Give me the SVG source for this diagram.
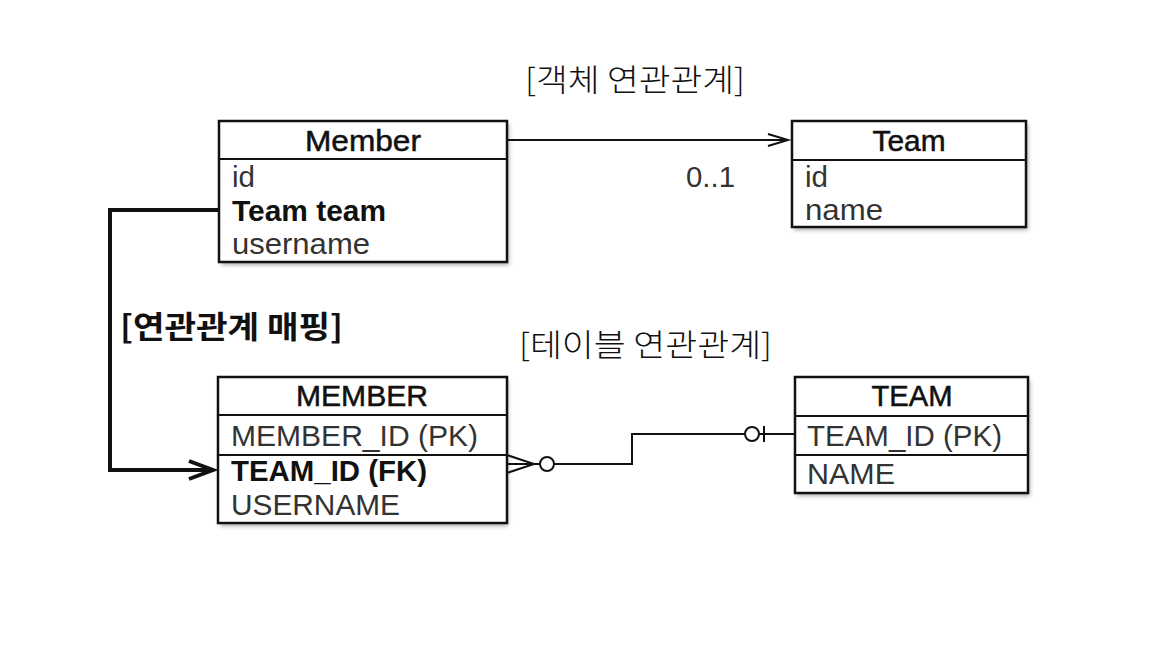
<svg xmlns="http://www.w3.org/2000/svg" width="1172" height="650" viewBox="0 0 1172 650">
<defs>
<style>
text{font-family:"Liberation Sans","Noto Sans CJK KR",sans-serif;fill:#111;}
.k{font-family:"Noto Sans CJK KR",sans-serif;font-size:31px;font-weight:300;}
.t{font-size:29px;text-anchor:middle;stroke:#111;stroke-width:0.5;}
.f{font-size:29px;fill:#333;}
.b{font-weight:700;fill:#111;}
.box{fill:#fff;stroke:#111;stroke-width:2.5;}
.sh{fill:#aaa;}
.ln{fill:none;stroke:#111;stroke-width:2;}
</style>
<filter id="blur" x="-5%" y="-5%" width="110%" height="120%"><feGaussianBlur stdDeviation="2"/></filter>
<marker id="open" markerWidth="30" markerHeight="20" refX="22" refY="8" orient="auto" markerUnits="userSpaceOnUse"><path d="M2,2 L22,8 L2,14" fill="none" stroke="#111" stroke-width="2"/></marker>
<marker id="thick" markerWidth="34" markerHeight="24" refX="26" refY="12" orient="auto" markerUnits="userSpaceOnUse"><path d="M2,3 L26,12 L2,21" fill="none" stroke="#111" stroke-width="4"/></marker>
</defs>
<rect width="1172" height="650" fill="#fff"/>

<text class="k" x="525" y="91" textLength="220" lengthAdjust="spacingAndGlyphs">[객체 연관관계]</text>
<text class="k" x="519" y="356" textLength="253" lengthAdjust="spacingAndGlyphs">[테이블 연관관계]</text>
<text class="k" x="120" y="338" textLength="223" lengthAdjust="spacingAndGlyphs" style="font-weight:700">[연관관계 매핑]</text>

<g id="Member">
<rect class="sh" x="221" y="124" width="288" height="141" filter="url(#blur)"/>
<rect class="box" x="219" y="121" width="288" height="141"/>
<line class="ln" x1="219" y1="159" x2="507" y2="159" stroke-width="2.5"/>
<text class="t" x="363" y="151" textLength="116" lengthAdjust="spacingAndGlyphs">Member</text>
<text class="f" x="232" y="187" textLength="23" lengthAdjust="spacingAndGlyphs">id</text>
<text class="f b" x="232" y="221" textLength="154" lengthAdjust="spacingAndGlyphs">Team team</text>
<text class="f" x="232" y="254" textLength="138" lengthAdjust="spacingAndGlyphs">username</text>
</g>

<g id="Team">
<rect class="sh" x="794" y="124" width="234" height="106" filter="url(#blur)"/>
<rect class="box" x="792" y="121" width="234" height="106"/>
<line class="ln" x1="792" y1="160" x2="1026" y2="160" stroke-width="2.5"/>
<text class="t" x="909" y="151" textLength="73" lengthAdjust="spacingAndGlyphs">Team</text>
<text class="f" x="805" y="187" textLength="23" lengthAdjust="spacingAndGlyphs">id</text>
<text class="f" x="805" y="220" textLength="78" lengthAdjust="spacingAndGlyphs">name</text>
</g>

<g id="MEMBER">
<rect class="sh" x="220" y="380" width="288" height="146" filter="url(#blur)"/>
<rect class="box" x="218" y="377" width="289" height="146"/>
<line class="ln" x1="218" y1="415" x2="507" y2="415" stroke-width="2.5"/>
<line class="ln" x1="218" y1="455" x2="507" y2="455" stroke-width="2.5"/>
<text class="t" x="362" y="406" textLength="132" lengthAdjust="spacingAndGlyphs">MEMBER</text>
<text class="f" x="231" y="446" textLength="247" lengthAdjust="spacingAndGlyphs">MEMBER_ID (PK)</text>
<text class="f b" x="231" y="481" textLength="196" lengthAdjust="spacingAndGlyphs">TEAM_ID (FK)</text>
<text class="f" x="231" y="515" textLength="169" lengthAdjust="spacingAndGlyphs">USERNAME</text>
</g>

<g id="TEAM">
<rect class="sh" x="797" y="380" width="233" height="116" filter="url(#blur)"/>
<rect class="box" x="795" y="377" width="233" height="116"/>
<line class="ln" x1="795" y1="416" x2="1028" y2="416" stroke-width="2.5"/>
<line class="ln" x1="795" y1="455" x2="1028" y2="455" stroke-width="2.5"/>
<text class="t" x="912" y="406" textLength="81" lengthAdjust="spacingAndGlyphs">TEAM</text>
<text class="f" x="807" y="446" textLength="195" lengthAdjust="spacingAndGlyphs">TEAM_ID (PK)</text>
<text class="f" x="807" y="484" textLength="88" lengthAdjust="spacingAndGlyphs">NAME</text>
</g>

<g id="connectors">
<line class="ln" x1="507" y1="140" x2="788" y2="140" marker-end="url(#open)"/>
<text class="f" x="686" y="187" textLength="49" lengthAdjust="spacingAndGlyphs">0..1</text>
<path d="M219,210 H110 V470 H213" fill="none" stroke="#111" stroke-width="4" marker-end="url(#thick)"/>
<path class="ln" d="M507,455 L534,464 L507,473 M507,464 H540"/>
<circle cx="547" cy="464" r="7" fill="#fff" stroke="#111" stroke-width="2"/>
<path class="ln" d="M554,464 H632 V434 H745"/>
<circle cx="752" cy="434" r="7" fill="#fff" stroke="#111" stroke-width="2"/>
<path class="ln" d="M759,434 H795 M764,426 V442"/>
</g>
</svg>
